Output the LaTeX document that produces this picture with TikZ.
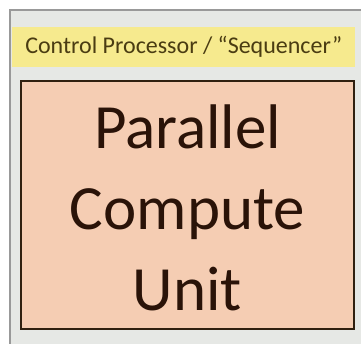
\documentclass[tikz,border=0pt]{standalone}
\usepackage{fontspec}
\setmainfont{Carlito}
\usepackage{xcolor}
\usetikzlibrary{positioning}

\definecolor{framegray}{HTML}{E6E8E5}
\definecolor{bandyellow}{HTML}{F6EA8E}
\definecolor{unitsalmon}{HTML}{F5CDB3}
\definecolor{darkbrown}{HTML}{2A1308}
\definecolor{olivebrown}{HTML}{4A3C12}

\begin{document}
\begin{tikzpicture}[x=1pt,y=-1pt]
\useasboundingbox (0,0) rectangle (361,344);
\clip (0,0) rectangle (361,344);
\fill[white] (0,0) rectangle (361,344);
% Outer frame
\draw[line width=1.5pt,draw=black!40,fill=framegray] (10,10) rectangle (372,360);
% Sequencer band
\node[fill=bandyellow,minimum width=343pt,minimum height=40pt,inner sep=0pt,anchor=north west,
      font=\fontsize{24}{28}\selectfont,text=olivebrown] (seq) at (12,27)
      {Control Processor / “Sequencer”};
% Compute unit
\node[draw=black!75!brown,line width=2pt,fill=unitsalmon,minimum width=333pt,minimum height=248pt,
      inner sep=0pt,anchor=north west] (pcu) at (20,80) {};
\node[align=center,text=darkbrown,font=\fontsize{63}{81}\selectfont,
      inner sep=0pt] (pcutext) at ([yshift=-3pt]pcu.center) {Parallel\\Compute\\Unit};
\end{tikzpicture}
\end{document}
